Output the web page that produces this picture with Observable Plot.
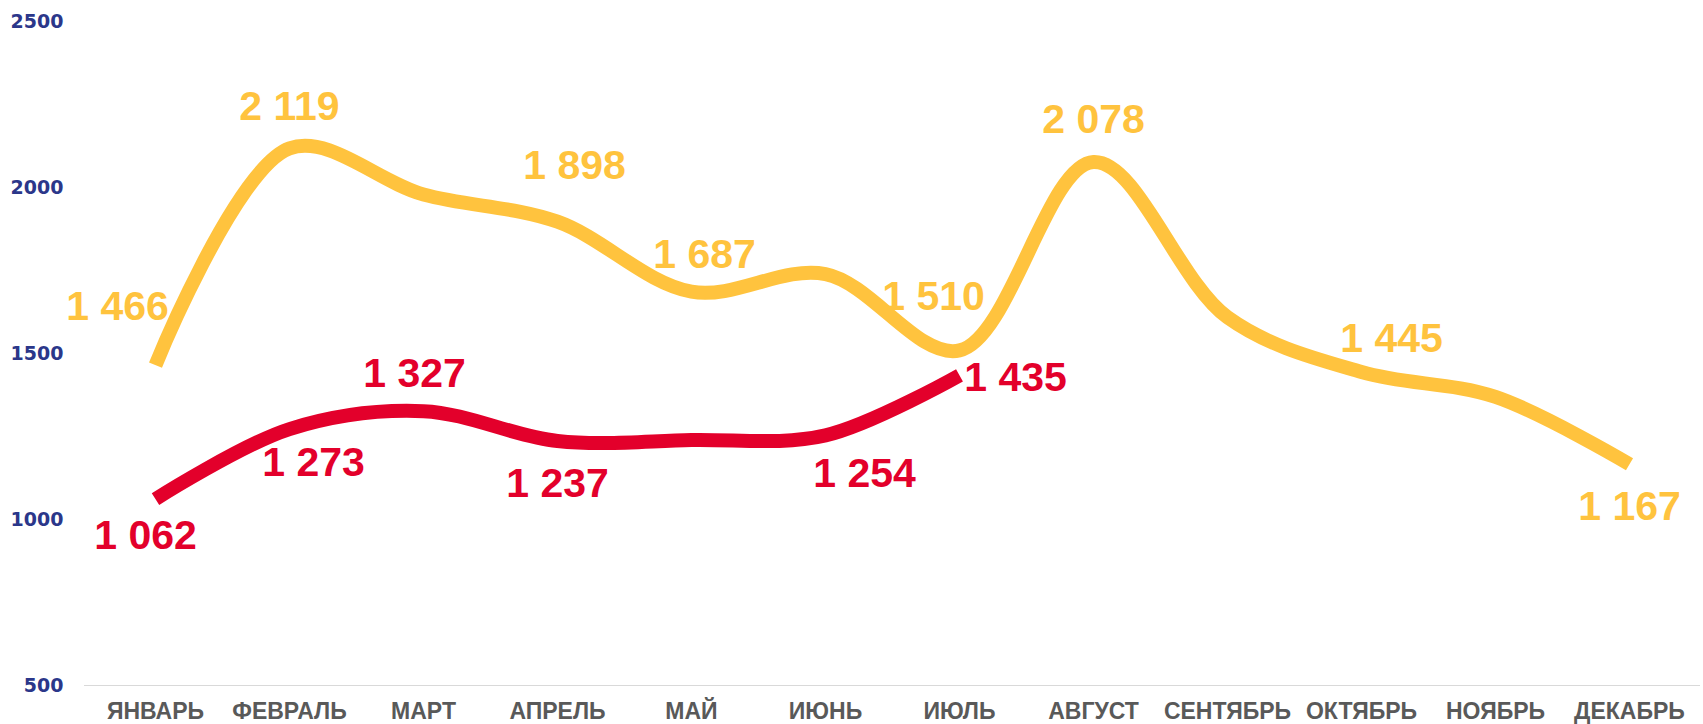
<!DOCTYPE html>
<html>
<head>
<meta charset="utf-8">
<script src="https://cdn.jsdelivr.net/npm/d3@7"></script>
<script src="https://cdn.jsdelivr.net/npm/@observablehq/plot@0.6"></script>
<style>
  html, body { margin: 0; padding: 0; background: #fff; }
  #chart svg { display: block; }
</style>
</head>
<body>
<div id="chart"></div>
<script>
// ---- data ----
const months = ["ЯНВАРЬ","ФЕВРАЛЬ","МАРТ","АПРЕЛЬ","МАЙ","ИЮНЬ","ИЮЛЬ","АВГУСТ","СЕНТЯБРЬ","ОКТЯБРЬ","НОЯБРЬ","ДЕКАБРЬ"];
const yellowValues = [1466, 2119, 1980, 1898, 1687, 1740, 1510, 2078, 1610, 1445, 1370, 1167];
const redValues = [1062, 1273, 1327, 1237, 1240, 1254, 1435];
const yellowLabelled = [true, true, false, true, true, false, true, true, false, true, false, true];
const redLabelled = [true, true, true, true, false, true, true];
const yTicks = [500, 1000, 1500, 2000, 2500];

// ---- styling / label nudges (pixels) ----
const YELLOW = "#FFC33E";
const RED = "#E3002B";
const nudgeYellow = {
  "ЯНВАРЬ": [-38, -58], "ФЕВРАЛЬ": [0, -42], "АПРЕЛЬ": [17, -56], "МАЙ": [13, -37],
  "ИЮЛЬ": [-26, -54], "АВГУСТ": [0, -42], "ОКТЯБРЬ": [30, -33], "ДЕКАБРЬ": [0, 43]
};
const nudgeRed = {
  "ЯНВАРЬ": [-10, 37], "ФЕВРАЛЬ": [24, 34], "МАРТ": [-9, -37], "АПРЕЛЬ": [0, 43],
  "ИЮНЬ": [39, 39], "ИЮЛЬ": [56, 3]
};

const yellow = months.map((m, i) => ({month: m, value: yellowValues[i], show: yellowLabelled[i]}));
const red = redValues.map((v, i) => ({month: months[i], value: v, show: redLabelled[i]}));

const fmt = v => d3.format(",")(v).replace(/,/g, " ");

function labelMarks(rows, nudges, color) {
  return rows.filter(d => d.show).map(d => Plot.text([d], {
    x: "month", y: "value", text: d => fmt(d.value),
    dx: nudges[d.month][0], dy: nudges[d.month][1],
    fill: color, fontSize: 41, fontWeight: "bold",
    fontFamily: "Liberation Sans, Arial, sans-serif"
  }));
}

const chart = Plot.plot({
  width: 1703,
  height: 724,
  marginTop: 21.5,
  marginBottom: 39,
  marginLeft: 84,
  marginRight: 3,
  style: {background: "#fff", overflow: "visible"},
  x: {type: "point", domain: months, padding: 0.5, label: null},
  y: {domain: [500, 2500], label: null},
  marks: [
    Plot.ruleY([500], {stroke: "#d9d9d9", strokeWidth: 1.2}),
    Plot.axisY({ticks: yTicks, tickSize: 0, tickPadding: 21, tickFormat: d => String(d),
      fontSize: 19, fontWeight: "bold", fontFamily: "DejaVu Sans, Verdana, sans-serif",
      color: "#2B378A", fill: "#2B378A", label: null}),
    Plot.axisX({tickSize: 0, tickPadding: 17, fontSize: 23, fontWeight: "bold",
      fontFamily: "Liberation Sans, Arial, sans-serif", color: "#595959", fill: "#595959", label: null}),
    Plot.line(yellow, {x: "month", y: "value", stroke: YELLOW, strokeWidth: 14,
      curve: "catmull-rom", strokeLinecap: "butt", strokeLinejoin: "round"}),
    Plot.line(red, {x: "month", y: "value", stroke: RED, strokeWidth: 14,
      curve: "catmull-rom", strokeLinecap: "butt", strokeLinejoin: "round"}),
    ...labelMarks(yellow, nudgeYellow, YELLOW),
    ...labelMarks(red, nudgeRed, RED)
  ]
});
document.getElementById("chart").appendChild(chart);
</script>
</body>
</html>
